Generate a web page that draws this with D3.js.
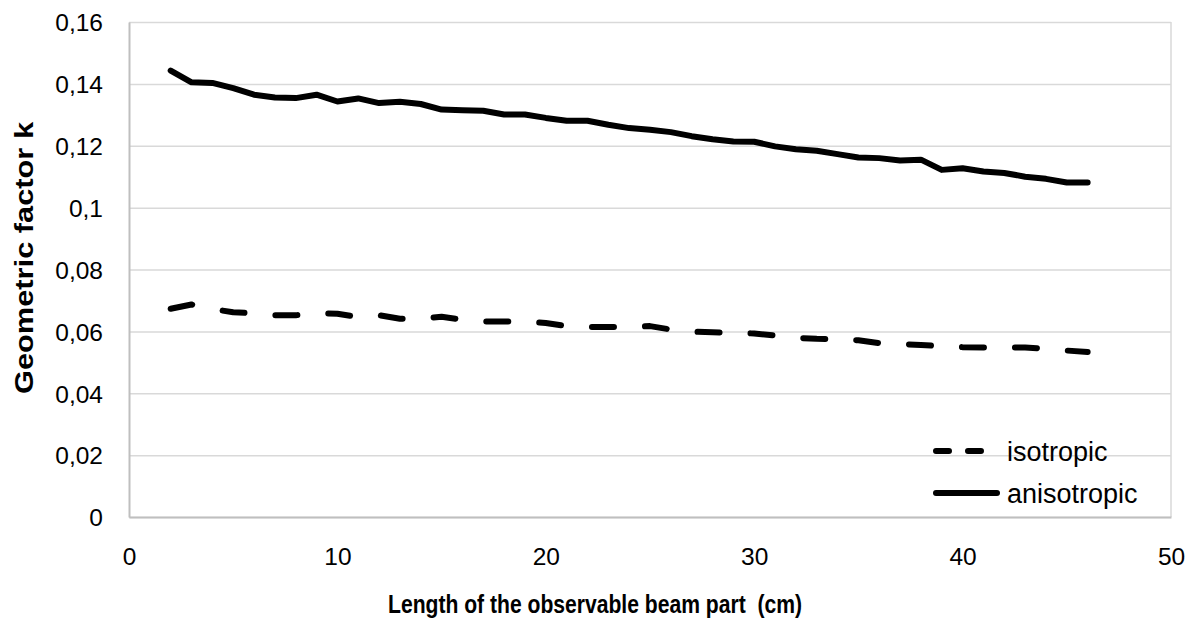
<!DOCTYPE html>
<html>
<head>
<meta charset="utf-8">
<script src="https://cdn.jsdelivr.net/npm/d3@7"></script>
<style>
    body { margin: 0; background: #fff; }
    text { font-family: "Liberation Sans", Arial, sans-serif; fill: #000; }
</style>
</head>
<body>
<svg></svg>
<script>
// lengths of the observable beam part (cm)
let lengths = [2, 3, 4, 5, 6, 7, 8, 9, 10, 11, 12, 13, 14, 15, 16, 17, 18, 19, 20, 21, 22, 23, 24,
    25, 26, 27, 28, 29, 30, 31, 32, 33, 34, 35, 36, 37, 38, 39, 40, 41, 42, 43, 44, 45, 46];

// geometric factor k, isotropic
let isotropic = [0.0673, 0.0687, 0.0672, 0.0662, 0.0658, 0.0652, 0.0652, 0.0659, 0.0657, 0.0646,
    0.0652, 0.0641, 0.0641, 0.0647, 0.0638, 0.0632, 0.0632, 0.0632, 0.0627, 0.0617, 0.0614, 0.0614,
    0.0614, 0.0617, 0.0606, 0.0599, 0.0597, 0.0596, 0.0593, 0.0587, 0.0579, 0.0576, 0.0575, 0.0571,
    0.0562, 0.0559, 0.0556, 0.0552, 0.0549, 0.0548, 0.0548, 0.0548, 0.0544, 0.0538, 0.0533];

// geometric factor k, anisotropic
let anisotropic = [0.1443, 0.1405, 0.1403, 0.1386, 0.1365, 0.1356, 0.1354, 0.1365, 0.1343, 0.1353,
    0.1338, 0.1342, 0.1335, 0.1317, 0.1315, 0.1313, 0.1301, 0.1301, 0.1290, 0.1281, 0.1281, 0.1268,
    0.1257, 0.1252, 0.1244, 0.1231, 0.1221, 0.1214, 0.1213, 0.1198, 0.1189, 0.1184, 0.1173, 0.1162,
    0.1160, 0.1152, 0.1155, 0.1122, 0.1127, 0.1117, 0.1112, 0.1100, 0.1093, 0.1081, 0.1081];

let seriesNames = ["isotropic", "anisotropic"];
let xTicks = [0, 10, 20, 30, 40, 50];
let yTicks = [0, 0.02, 0.04, 0.06, 0.08, 0.1, 0.12, 0.14, 0.16];

drawChart();

function drawChart() {
    let svgWidth = 1196, svgHeight = 620;
    let margin = { top: 22, left: 129, bottom: 103, right: 25 };
    let width = svgWidth - margin.left - margin.right;
    let height = svgHeight - margin.top - margin.bottom;

    let svg = d3.select("svg")
        .attr("width", svgWidth)
        .attr("height", svgHeight);

    let g = svg.append("g")
        .attr("transform", "translate(" + margin.left + "," + margin.top + ")");

    let x = d3.scaleLinear().domain([0, 50]).range([0, width]);
    let y = d3.scaleLinear().domain([0, 0.16]).range([height, 0]);

    // comma as decimal sign
    let fmt = function (d) { return d === 0 ? "0" : String(+d.toFixed(2)).replace(".", ","); };

    // horizontal gridlines
    g.append("g")
        .call(d3.axisLeft(y).tickValues(yTicks).tickSize(-width).tickFormat(""))
        .call(function (a) { a.select(".domain").remove(); })
        .selectAll("line")
        .attr("stroke", "#d9d9d9")
        .attr("stroke-width", 1.5);

    // right border of the plot area
    g.append("line")
        .attr("x1", width).attr("x2", width)
        .attr("y1", 0).attr("y2", height)
        .attr("stroke", "#d9d9d9")
        .attr("stroke-width", 1.5);

    // y axis
    let yAxis = g.append("g")
        .call(d3.axisLeft(y).tickValues(yTicks).tickSize(0).tickPadding(26).tickFormat(fmt));
    yAxis.select(".domain").attr("stroke", "#bfbfbf").attr("stroke-width", 2);
    yAxis.selectAll("text")
        .style("font-size", "24.5px")
        .attr("dy", "0.36em");

    // x axis
    let xAxis = g.append("g")
        .attr("transform", "translate(0," + height + ")")
        .call(d3.axisBottom(x).tickValues(xTicks).tickSize(0).tickPadding(31).tickFormat(d3.format("d")));
    xAxis.select(".domain").attr("stroke", "#bfbfbf").attr("stroke-width", 2);
    xAxis.selectAll("text")
        .style("font-size", "24.5px");

    // axis titles
    svg.append("text")
        .attr("transform", "translate(33,258) rotate(-90)")
        .attr("text-anchor", "middle")
        .attr("textLength", 272)
        .attr("lengthAdjust", "spacingAndGlyphs")
        .style("font-size", "26px")
        .style("font-weight", "bold")
        .text("Geometric factor k");

    svg.append("text")
        .attr("x", 388)
        .attr("y", 613)
        .attr("textLength", 414)
        .attr("lengthAdjust", "spacingAndGlyphs")
        .style("font-size", "26.5px")
        .style("font-weight", "bold")
        .style("white-space", "pre")
        .text("Length of the observable beam part  (cm)");

    let line = d3.line()
        .x(function (d) { return x(d[0]); })
        .y(function (d) { return y(d[1]); });

    let isoData = lengths.map(function (l, i) { return [l, isotropic[i]]; });
    let anisoData = lengths.map(function (l, i) { return [l, anisotropic[i]]; });

    g.append("path")
        .datum(isoData)
        .attr("fill", "none")
        .attr("stroke", "#000")
        .attr("stroke-width", 6)
        .attr("stroke-linejoin", "round")
        .attr("stroke-linecap", "round")
        .attr("stroke-dasharray", "22,31")
        .attr("d", line);

    g.append("path")
        .datum(anisoData)
        .attr("fill", "none")
        .attr("stroke", "#000")
        .attr("stroke-width", 6)
        .attr("stroke-linejoin", "round")
        .attr("stroke-linecap", "round")
        .attr("d", line);

    // legend
    let legend = svg.append("g");
    let legendY = [451, 493];
    let legendDash = ["13,19", null];
    seriesNames.forEach(function (name, i) {
        legend.append("line")
            .attr("x1", 936).attr("x2", i === 0 ? 985 : 997)
            .attr("y1", legendY[i]).attr("y2", legendY[i])
            .attr("stroke", "#000")
            .attr("stroke-width", 6)
            .attr("stroke-linecap", "round")
            .attr("stroke-dasharray", legendDash[i]);
        legend.append("text")
            .attr("x", 1007)
            .attr("y", legendY[i])
            .attr("dy", "0.36em")
            .style("font-size", "27px")
            .text(name);
    });
}
</script>
</body>
</html>
